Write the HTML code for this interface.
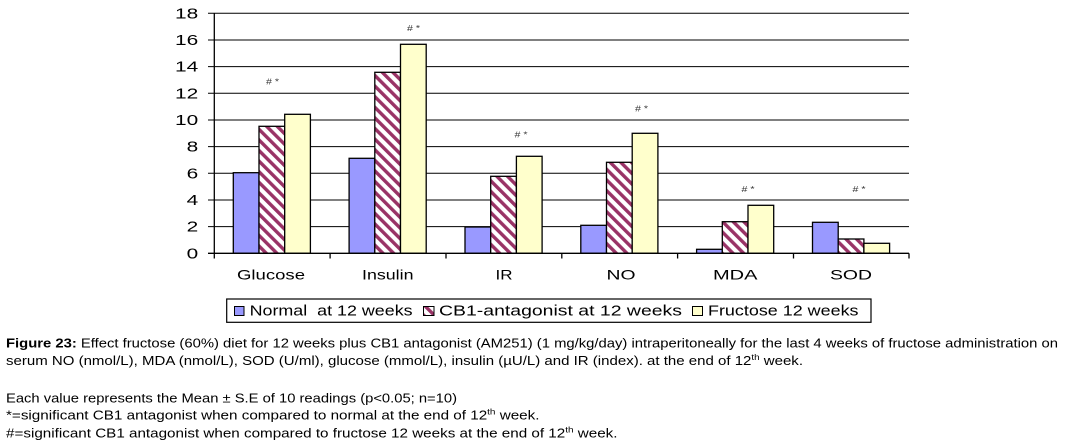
<!DOCTYPE html>
<html><head><meta charset="utf-8"><style>
html,body{margin:0;padding:0;background:#fff;}
svg{display:block;}
text{font-family:"Liberation Sans",Arial,sans-serif;}
.pre{white-space:pre;}
</style></head><body>
<svg width="1087" height="446" viewBox="0 0 1087 446" xmlns="http://www.w3.org/2000/svg">
<defs>
<pattern id="h" width="7.5" height="7.5" patternUnits="userSpaceOnUse" patternTransform="rotate(-45)">
<rect width="7.5" height="7.5" fill="#fff"/>
<rect width="3.4" height="7.5" fill="#993366"/>
</pattern>
</defs>
<rect width="1087" height="446" fill="#fff"/>
<!-- gridlines -->
<g stroke="#000" stroke-width="1">
<line x1="208" y1="13.3" x2="909" y2="13.3"/>
<line x1="208" y1="40" x2="909" y2="40"/>
<line x1="208" y1="66.6" x2="909" y2="66.6"/>
<line x1="208" y1="93.3" x2="909" y2="93.3"/>
<line x1="208" y1="120" x2="909" y2="120"/>
<line x1="208" y1="146.6" x2="909" y2="146.6"/>
<line x1="208" y1="173.3" x2="909" y2="173.3"/>
<line x1="208" y1="200" x2="909" y2="200"/>
<line x1="208" y1="226.6" x2="909" y2="226.6"/>
</g>
<!-- bars -->
<g stroke="#000" stroke-width="1.3">
<rect x="233.3" y="172.7" width="25.7" height="80.6" fill="#9999ff"/>
<rect x="259" y="126.3" width="25.7" height="127" fill="url(#h)"/>
<rect x="284.7" y="114.3" width="25.7" height="139" fill="#ffffcc"/>
<rect x="349.1" y="158.3" width="25.7" height="95" fill="#9999ff"/>
<rect x="374.8" y="72.3" width="25.7" height="181" fill="url(#h)"/>
<rect x="400.5" y="44.3" width="25.7" height="209" fill="#ffffcc"/>
<rect x="465" y="227" width="25.7" height="26.3" fill="#9999ff"/>
<rect x="490.7" y="176.3" width="25.7" height="77" fill="url(#h)"/>
<rect x="516.4" y="156.3" width="25.7" height="97" fill="#ffffcc"/>
<rect x="580.8" y="225.3" width="25.7" height="28" fill="#9999ff"/>
<rect x="606.5" y="162.3" width="25.7" height="91" fill="url(#h)"/>
<rect x="632.2" y="133.3" width="25.7" height="120" fill="#ffffcc"/>
<rect x="696.6" y="249.3" width="25.7" height="4" fill="#9999ff"/>
<rect x="722.3" y="221.7" width="25.7" height="31.6" fill="url(#h)"/>
<rect x="748" y="205.3" width="25.7" height="48" fill="#ffffcc"/>
<rect x="812.5" y="222.3" width="25.7" height="31" fill="#9999ff"/>
<rect x="838.2" y="239" width="25.7" height="14.3" fill="url(#h)"/>
<rect x="863.9" y="243.3" width="25.7" height="10" fill="#ffffcc"/>
</g>
<!-- axes -->
<g stroke="#000" stroke-width="1.3">
<line x1="214.3" y1="13.3" x2="214.3" y2="253.3"/>
<line x1="208" y1="253.3" x2="909" y2="253.3"/>
<line x1="214.3" y1="253.3" x2="214.3" y2="258.5"/>
<line x1="330.1" y1="253.3" x2="330.1" y2="258.5"/>
<line x1="446" y1="253.3" x2="446" y2="258.5"/>
<line x1="561.8" y1="253.3" x2="561.8" y2="258.5"/>
<line x1="677.6" y1="253.3" x2="677.6" y2="258.5"/>
<line x1="793.5" y1="253.3" x2="793.5" y2="258.5"/>
<line x1="909" y1="253.3" x2="909" y2="258.5"/>
</g>
<!-- y tick labels -->
<g font-size="14.4" fill="#000">
<text x="175" y="18.3" textLength="23.2" lengthAdjust="spacingAndGlyphs">18</text>
<text x="175" y="45" textLength="23.2" lengthAdjust="spacingAndGlyphs">16</text>
<text x="175" y="71.6" textLength="23.2" lengthAdjust="spacingAndGlyphs">14</text>
<text x="175" y="98.3" textLength="23.2" lengthAdjust="spacingAndGlyphs">12</text>
<text x="175" y="125" textLength="23.2" lengthAdjust="spacingAndGlyphs">10</text>
<text x="186.6" y="151.6" textLength="11.6" lengthAdjust="spacingAndGlyphs">8</text>
<text x="186.6" y="178.3" textLength="11.6" lengthAdjust="spacingAndGlyphs">6</text>
<text x="186.6" y="205" textLength="11.6" lengthAdjust="spacingAndGlyphs">4</text>
<text x="186.6" y="231.6" textLength="11.6" lengthAdjust="spacingAndGlyphs">2</text>
<text x="186.6" y="258.3" textLength="11.6" lengthAdjust="spacingAndGlyphs">0</text>
</g>
<!-- category labels -->
<g font-size="14" fill="#000">
<text x="237" y="279.3" textLength="68" lengthAdjust="spacingAndGlyphs">Glucose</text>
<text x="362" y="279.3" textLength="51.5" lengthAdjust="spacingAndGlyphs">Insulin</text>
<text x="495.5" y="279.3" textLength="17" lengthAdjust="spacingAndGlyphs">IR</text>
<text x="606.5" y="279.3" textLength="29" lengthAdjust="spacingAndGlyphs">NO</text>
<text x="713" y="279.3" textLength="44.5" lengthAdjust="spacingAndGlyphs">MDA</text>
<text x="830" y="279.3" textLength="42" lengthAdjust="spacingAndGlyphs">SOD</text>
</g>
<!-- annotations -->
<g font-size="8" fill="#333">
<text x="266" y="84.5" textLength="13" lengthAdjust="spacingAndGlyphs"># *</text>
<text x="407" y="31" textLength="13" lengthAdjust="spacingAndGlyphs"># *</text>
<text x="514.5" y="137.5" textLength="13" lengthAdjust="spacingAndGlyphs"># *</text>
<text x="635" y="111.5" textLength="13" lengthAdjust="spacingAndGlyphs"># *</text>
<text x="741.5" y="192" textLength="13" lengthAdjust="spacingAndGlyphs"># *</text>
<text x="852.5" y="192" textLength="13" lengthAdjust="spacingAndGlyphs"># *</text>
</g>
<!-- legend -->
<rect x="226.7" y="299" width="644.3" height="23.3" fill="#fff" stroke="#000" stroke-width="1.2"/>
<g stroke="#000" stroke-width="1">
<rect x="234.5" y="306.5" width="9.5" height="9" fill="#9999ff"/>
<rect x="423.5" y="306.5" width="10.5" height="9" fill="url(#h)"/>
<rect x="692.5" y="306.5" width="10" height="9" fill="#ffffcc"/>
</g>
<g font-size="15" fill="#000">
<text class="pre" xml:space="preserve" x="249.6" y="315.7" textLength="163" lengthAdjust="spacingAndGlyphs">Normal  at 12 weeks</text>
<text x="439" y="315.7" textLength="243" lengthAdjust="spacingAndGlyphs">CB1-antagonist at 12 weeks</text>
<text x="708" y="315.7" textLength="150.5" lengthAdjust="spacingAndGlyphs">Fructose 12 weeks</text>
</g>
<!-- caption -->
<g font-size="13" fill="#000">
<text x="6" y="347.3" textLength="1052" lengthAdjust="spacingAndGlyphs"><tspan font-weight="bold">Figure 23:</tspan> Effect fructose (60%) diet for 12 weeks plus CB1 antagonist (AM251) (1 mg/kg/day) intraperitoneally for the last 4 weeks of fructose administration on</text>
<text x="6" y="365" textLength="797" lengthAdjust="spacingAndGlyphs">serum NO (nmol/L), MDA (nmol/L), SOD (U/ml), glucose (mmol/L), insulin (µU/L) and IR (index). at the end of 12<tspan font-size="8.5" dy="-5">th</tspan><tspan dy="5"> week.</tspan></text>
<text x="6" y="402.3" textLength="451" lengthAdjust="spacingAndGlyphs">Each value represents the Mean ± S.E of 10 readings (p&lt;0.05; n=10)</text>
<text x="6" y="419.3" textLength="533.5" lengthAdjust="spacingAndGlyphs">*=significant CB1 antagonist when compared to normal at the end of 12<tspan font-size="8.5" dy="-5">th</tspan><tspan dy="5"> week.</tspan></text>
<text x="6" y="437.3" textLength="611.5" lengthAdjust="spacingAndGlyphs">#=significant CB1 antagonist when compared to fructose 12 weeks at the end of 12<tspan font-size="8.5" dy="-5">th</tspan><tspan dy="5"> week.</tspan></text>
</g>
</svg>
</body></html>
